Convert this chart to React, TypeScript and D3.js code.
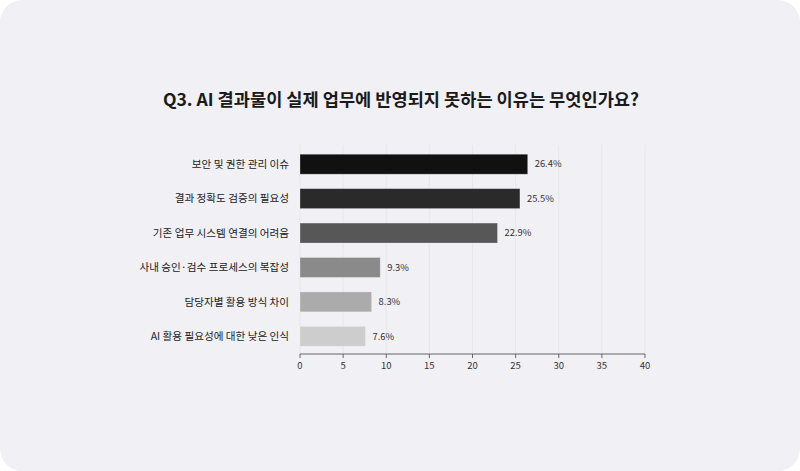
import React from "react";
import * as d3 from "d3";

const categories = [
  "보안 및 권한 관리 이슈",
  "결과 정확도 검증의 필요성",
  "기존 업무 시스템 연결의 어려움",
  "사내 승인·검수 프로세스의 복잡성",
  "담당자별 활용 방식 차이",
  "AI 활용 필요성에 대한 낮은 인식",
];
const values = [26.4, 25.5, 22.9, 9.3, 8.3, 7.6];
const barColors = ["#111111", "#2a2a2a", "#575757", "#8a8a8a", "#ababab", "#cdcdcd"];
const xTicks = [0, 5, 10, 15, 20, 25, 30, 35, 40];
const title = "Q3. AI 결과물이 실제 업무에 반영되지 못하는 이유는 무엇인가요?";

const W = 800;
const H = 471;
const FONT = "'Noto Sans CJK KR', 'Noto Sans', sans-serif";

export default function App() {
  const x = d3.scaleLinear().domain([0, 40]).range([300, 645]);
  const y = d3
    .scaleBand<string>()
    .domain(categories)
    .range([147, 353.5])
    .paddingInner(0.42)
    .paddingOuter(0.21);
  const axisY = 354;

  return (
    <div style={{ position: "fixed", left: 0, top: 0, width: W, height: H, background: "#ffffff" }}>
      <svg width={W} height={H} style={{ display: "block" }}>
        <rect x={0} y={0} width={W} height={H} rx={22} ry={22} fill="#f1f0f5" />
        <text
          x={401}
          y={106}
          textAnchor="middle"
          fontFamily={FONT}
          fontWeight={700}
          fontSize={17.6}
          fill="#1a1a1a"
        >
          {title}
        </text>
        {xTicks.map((t) => (
          <line key={"g" + t} x1={x(t)} x2={x(t)} y1={145} y2={axisY} stroke="#e7e6ec" strokeWidth={1} />
        ))}
        {categories.map((c, i) => (
          <g key={c}>
            <rect
              x={x(0)}
              y={y(c)!}
              width={x(values[i]) - x(0)}
              height={y.bandwidth()}
              fill={barColors[i]}
              stroke="#ffffff"
              strokeOpacity={0.35}
              strokeWidth={0.8}
            />
            <text
              x={289}
              y={y(c)! + y.bandwidth() / 2}
              dy="0.35em"
              textAnchor="end"
              fontFamily={FONT}
              fontSize={10.6}
              fill="#222"
            >
              {c}
            </text>
            <text
              x={x(values[i]) + 7}
              y={y(c)! + y.bandwidth() / 2}
              dy="0.35em"
              fontFamily={FONT}
              fontSize={9.4}
              fill="#333"
            >
              {values[i].toFixed(1) + "%"}
            </text>
          </g>
        ))}
        <line x1={x(0)} x2={x(40)} y1={axisY} y2={axisY} stroke="#666" strokeWidth={1} />
        {xTicks.map((t) => (
          <g key={"t" + t}>
            <line x1={x(t)} x2={x(t)} y1={axisY} y2={axisY + 4} stroke="#666" strokeWidth={1} />
            <text
              x={x(t)}
              y={axisY + 15}
              textAnchor="middle"
              fontFamily={FONT}
              fontSize={9.5}
              fill="#333"
            >
              {t}
            </text>
          </g>
        ))}
      </svg>
    </div>
  );
}
